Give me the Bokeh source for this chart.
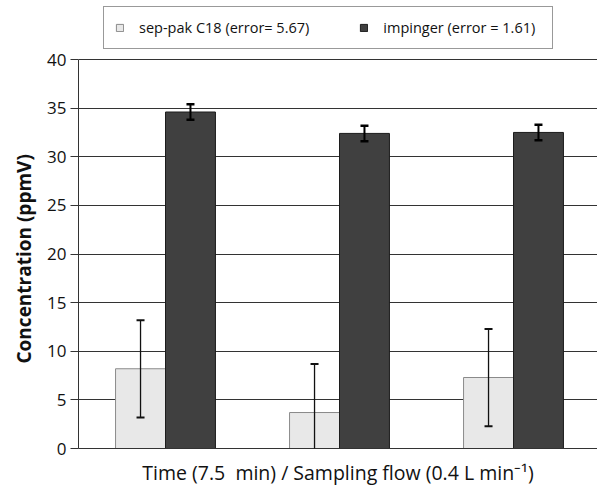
from bokeh.plotting import figure
from bokeh.models import ColumnDataSource, Whisker, TeeHead, Legend, LegendItem, Range1d, FixedTicker, Title
from bokeh.embed import file_html
from bokeh.resources import INLINE

# ---- data ----
categories = ["run 1", "run 2", "run 3"]
sep_pak = [8.2, 3.7, 7.3]
sep_pak_err = [5.0, 5.0, 5.0]
impinger = [34.6, 32.4, 32.5]
impinger_err = [0.8, 0.8, 0.8]
y_ticks = [0, 5, 10, 15, 20, 25, 30, 35, 40]
series_labels = ["sep-pak C18 (error= 5.67)", "impinger (error = 1.61)"]
y_label = "Concentration (ppmV)"
x_label = "Time (7.5\u00a0 min) / Sampling flow (0.4 L min\u207b\u00b9)"

FONT = "Open Sans"
bar_w = 0.287
off = bar_w / 2

pos = [i + 0.5 for i in range(len(categories))]
src1 = ColumnDataSource(dict(
    x=[c - off for c in pos], top=sep_pak,
    upper=[v + e for v, e in zip(sep_pak, sep_pak_err)],
    lower=[v - e for v, e in zip(sep_pak, sep_pak_err)]))
src2 = ColumnDataSource(dict(
    x=[c + off for c in pos], top=impinger,
    upper=[v + e for v, e in zip(impinger, impinger_err)],
    lower=[v - e for v, e in zip(impinger, impinger_err)]))

# frame spans the whole top so the legend (inside the frame) sits above the 40 line
y_top = 40 + 59 / 9.725
p = figure(width=597, height=488, x_range=Range1d(0, 519 / 174), y_range=Range1d(0, y_top),
           output_backend="svg", toolbar_location=None,
           min_border_left=78, min_border_right=0, min_border_top=0, min_border_bottom=40)
p.outline_line_color = None
p.background_fill_color = "white"

r1 = p.vbar(x="x", top="top", width=bar_w, bottom=0, source=src1,
            fill_color="#e8e8e8", line_color="#8a8a8a", line_width=1)
r2 = p.vbar(x="x", top="top", width=bar_w, bottom=0, source=src2,
            fill_color="#404040", line_color="#1c1c1c", line_width=1)

w1 = Whisker(base="x", upper="upper", lower="lower", source=src1, dimension="height",
             line_color="#111111", line_width=1.3, level="overlay",
             upper_head=TeeHead(size=8, line_color="#111111", line_width=2),
             lower_head=TeeHead(size=8, line_color="#111111", line_width=2))
w2 = Whisker(base="x", upper="upper", lower="lower", source=src2, dimension="height",
             line_color="#000000", line_width=2, level="overlay",
             upper_head=TeeHead(size=8, line_color="#000000", line_width=2.5),
             lower_head=TeeHead(size=8, line_color="#000000", line_width=2.5))
p.add_layout(w1)
p.add_layout(w2)

# grid
p.xgrid.visible = False
p.ygrid.ticker = FixedTicker(ticks=y_ticks)
p.ygrid.grid_line_color = "#333333"
p.ygrid.grid_line_width = 1

# y axis
p.yaxis.ticker = FixedTicker(ticks=y_ticks)
p.yaxis.bounds = (0, 40)
p.yaxis.major_label_text_font = FONT
p.yaxis.major_label_text_font_size = "17px"
p.yaxis.major_label_text_color = "#111111"
p.yaxis.major_label_standoff = 4
p.yaxis.major_tick_out = 8
p.yaxis.major_tick_in = 0
p.yaxis.minor_tick_line_color = None
p.yaxis.axis_line_color = "#333333"
p.yaxis.major_tick_line_color = "#333333"

# y axis title, centred on the 0-40 part of the axis
ytitle = Title(text=y_label, align="left", offset=85, standoff=15,
               text_font=FONT, text_font_style="bold", text_font_size="19px",
               text_color="#111111")
p.add_layout(ytitle, "left")

# x axis
p.xaxis.ticker = FixedTicker(ticks=[])
p.xaxis.axis_label = x_label
p.xaxis.axis_label_text_font = FONT
p.xaxis.axis_label_text_font_style = "normal"
p.xaxis.axis_label_text_font_size = "19.5px"
p.xaxis.axis_label_text_color = "#111111"
p.xaxis.axis_label_standoff = 10
p.xaxis.major_tick_out = 0
p.xaxis.major_tick_in = 0
p.xaxis.minor_tick_line_color = None
p.xaxis.axis_line_color = "#333333"

legend = Legend(items=[LegendItem(label=series_labels[0], renderers=[r1]),
                       LegendItem(label=series_labels[1], renderers=[r2])],
                location=(25, 399), orientation="horizontal",
                glyph_width=9, glyph_height=9, label_standoff=15, spacing=50,
                padding=11, margin=0, label_width=158, label_height=17,
                label_text_font=FONT, label_text_font_size="14.5px", label_text_color="#111111",
                border_line_color="#333333", border_line_width=1,
                background_fill_color="white", background_fill_alpha=1)
p.add_layout(legend, "center")

open("out.html", "w").write(file_html(p, INLINE))
